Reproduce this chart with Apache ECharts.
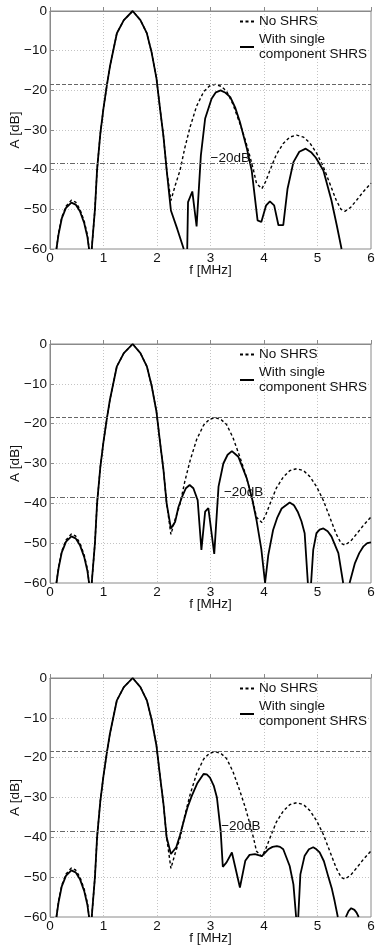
<!DOCTYPE html>
<html>
<head>
<meta charset="utf-8">
<script src="https://cdn.jsdelivr.net/npm/echarts@6/dist/echarts.min.js"></script>
<style>
  html, body { margin: 0; padding: 0; background: #fff; }
  #chart { width: 375px; height: 946px; }
</style>
</head>
<body>
<div id="chart"></div>
<script>
// Axis ticks: frequency [MHz] and amplitude [dB]
const freqTicks = [0, 1, 2, 3, 4, 5, 6];
const ampTicks = [-60, -50, -40, -30, -20, -10, 0];

// Spectrum without SHRS (identical in every panel); null = below the -60 dB floor
const noShrs = [
  [0.12, -60], [0.16, -56], [0.22, -52], [0.30, -49.2], [0.40, -47.7], [0.48, -48.2],
  [0.56, -50], [0.64, -53], [0.70, -56.5], [0.73, -60], [0.755, null],
  [0.78, -60], [0.84, -50], [0.88, -40], [0.94, -31], [1.00, -24.5], [1.06, -19],
  [1.12, -14], [1.25, -5.6], [1.38, -2.3], [1.545, 0], [1.69, -2.3], [1.81, -5.6],
  [1.90, -10.5], [1.99, -17], [2.06, -25], [2.12, -31.5], [2.18, -40], [2.26, -47.8],
  [2.34, -44], [2.43, -40.2], [2.52, -34.5], [2.62, -29.2], [2.74, -24], [2.87, -20.4],
  [2.98, -18.9], [3.09, -18.5], [3.20, -19], [3.30, -20.2], [3.42, -23.5], [3.55, -28.4],
  [3.65, -32.5], [3.74, -36.8], [3.81, -40.5], [3.86, -43.5], [3.96, -44.8], [4.03, -43],
  [4.11, -40.2], [4.23, -36.2], [4.36, -33.4], [4.48, -31.8], [4.61, -31.3], [4.74, -31.8],
  [4.86, -33.3], [4.99, -36], [5.11, -39.3], [5.23, -43.5], [5.35, -47.7], [5.44, -50],
  [5.51, -50.5], [5.62, -49.5], [5.73, -47.7], [5.86, -45.5], [6.00, -43.4]
];

// Low sidelobe and main lobe, shared by the three SHRS spectra
const shrsMainLobe = [
  [0.12, -60], [0.16, -56.3], [0.22, -52.3], [0.30, -49.6], [0.40, -48.3], [0.48, -48.8],
  [0.56, -50.5], [0.64, -53.5], [0.70, -57], [0.73, -60], [0.755, null],
  [0.78, -60], [0.84, -50], [0.88, -40], [0.94, -31], [1.00, -24.5], [1.06, -19],
  [1.12, -14], [1.25, -5.6], [1.38, -2.3], [1.545, 0], [1.69, -2.3], [1.81, -5.6],
  [1.90, -10.5], [1.99, -17], [2.06, -25], [2.12, -31.5], [2.18, -40]
];

// Remaining spectrum with single component SHRS, one array per panel
const shrsTailA = [
  [2.26, -50.3], [2.38, -55], [2.50, -60], [2.54, null], [2.565, -60], [2.58, -48.2],
  [2.66, -45.5], [2.74, -54.3], [2.82, -36.4], [2.90, -27.1], [3.02, -22.1], [3.10, -20.5],
  [3.19, -20], [3.28, -20.6], [3.37, -21.7], [3.46, -24.3], [3.55, -28], [3.68, -34.7],
  [3.77, -40.2], [3.88, -52.8], [3.95, -53.2], [4.04, -49], [4.11, -48], [4.19, -49],
  [4.27, -54], [4.36, -54], [4.44, -44.8], [4.55, -38.1], [4.66, -35.5], [4.78, -34.7],
  [4.88, -35.6], [4.97, -37], [5.11, -40.2], [5.26, -47.7], [5.36, -54], [5.45, -60]
];
const shrsTailB = [
  [2.26, -46.3], [2.34, -44.6], [2.40, -41], [2.47, -38.3], [2.54, -36.2], [2.61, -35.4],
  [2.68, -36.2], [2.76, -39.2], [2.83, -51.7], [2.90, -42.1], [2.96, -41.2], [2.99, -41.5],
  [3.07, -52.7], [3.15, -35.8], [3.24, -30], [3.32, -27.8], [3.40, -26.9], [3.52, -28.3],
  [3.68, -33.8], [3.78, -39], [3.86, -44.2], [3.95, -51.5], [4.02, -60], [4.08, -53],
  [4.17, -46.7], [4.25, -43.5], [4.33, -41.3], [4.48, -39.8], [4.56, -40.5], [4.63, -42.1],
  [4.70, -44.5], [4.76, -47.5], [4.82, -60], [4.85, null], [4.88, -60], [4.92, -51.7],
  [4.98, -47.5], [5.04, -46.6], [5.11, -46.3], [5.19, -47], [5.26, -48.3], [5.39, -52.5],
  [5.48, -60], [5.54, null], [5.60, -60], [5.70, -55], [5.78, -52.5], [5.86, -50.8],
  [5.93, -50], [6.00, -49.8]
];
const shrsTailC = [
  [2.26, -44.2], [2.36, -42.5], [2.43, -39.5], [2.50, -35.9], [2.57, -32.5], [2.65, -29.6],
  [2.75, -26.5], [2.87, -24.1], [2.93, -24.2], [2.99, -25], [3.06, -27], [3.12, -30],
  [3.19, -38.4], [3.23, -47.4], [3.30, -46.3], [3.40, -43.8], [3.55, -52.6], [3.65, -45.9],
  [3.73, -44.4], [3.83, -44.2], [3.96, -44.7], [4.08, -43], [4.16, -42.4], [4.24, -42.2],
  [4.30, -42.4], [4.36, -43], [4.48, -47.2], [4.55, -51.8], [4.60, -60], [4.62, null],
  [4.64, -60], [4.68, -49.3], [4.76, -44.6], [4.84, -43], [4.92, -42.5], [4.98, -43],
  [5.04, -43.8], [5.12, -46], [5.19, -49.3], [5.27, -53], [5.32, -56], [5.38, -60],
  [5.45, null], [5.53, -60], [5.58, -58.5], [5.63, -57.8], [5.69, -58.2], [5.73, -58.9],
  [5.77, -60]
];

// Highest sidelobe of the spectrum without SHRS, and the level 20 dB below it
const sidelobeRef = -18.5;
const dropDb = 20;
const dropLabel = '\u221220dB';
// Frequency where each panel's "-20dB" note starts
const dropLabelFreq = [3.0, 3.25, 3.2];

const seriesNames = ['No SHRS', 'With single\ncomponent SHRS'];
const shrsPanels = [shrsTailA, shrsTailB, shrsTailC];

const FONT = '"Liberation Sans", Arial, Helvetica, sans-serif';
const TEXT = '#111';
const BOX = '#8a8a8a';
const minus = v => String(v).replace('-', '\u2212');

const panelTops = [11, 344, 678];
const panelHeights = [238, 239, 239];

const grids = [], xAxes = [], yAxes = [], series = [], legends = [];

panelTops.forEach((top, i) => {
  grids.push({
    left: 50, top: top, width: 321, height: panelHeights[i],
    outerBoundsMode: 'none', containLabel: false,
    show: true, borderColor: BOX, borderWidth: 1, backgroundColor: 'transparent'
  });
  xAxes.push({
    type: 'value', gridIndex: i, min: freqTicks[0], max: freqTicks[freqTicks.length - 1],
    interval: 1,
    name: 'f [MHz]', nameLocation: 'middle', nameGap: 14, nameMoveOverlap: false,
    nameTextStyle: { fontFamily: FONT, fontSize: 13.5, color: TEXT },
    axisLine: { show: true, lineStyle: { color: BOX, width: 1 } },
    axisTick: { show: true, inside: true, length: 4, lineStyle: { color: BOX } },
    axisLabel: { fontFamily: FONT, fontSize: 13.5, color: TEXT, margin: 2 },
    splitLine: { show: true, lineStyle: { color: '#c4c4c4', type: [1, 2], width: 1 } }
  });
  yAxes.push({
    type: 'value', gridIndex: i, min: ampTicks[0], max: ampTicks[ampTicks.length - 1],
    interval: 10,
    name: 'A [dB]', nameLocation: 'middle', nameGap: 28, nameMoveOverlap: false,
    nameTextStyle: { fontFamily: FONT, fontSize: 13.5, color: TEXT },
    axisLine: { show: true, lineStyle: { color: BOX, width: 1 } },
    axisTick: { show: true, inside: true, length: 4, lineStyle: { color: BOX } },
    axisLabel: { fontFamily: FONT, fontSize: 13.5, color: TEXT, margin: 3, formatter: minus },
    splitLine: { show: true, lineStyle: { color: '#c4c4c4', type: [1, 2], width: 1 } }
  });

  series.push({
    name: seriesNames[0], type: 'line', xAxisIndex: i, yAxisIndex: i,
    data: noShrs, showSymbol: false, symbol: 'none', connectNulls: false, clip: true,
    lineStyle: { color: '#000', width: 1.4, type: [3, 2.5] },
    itemStyle: { color: '#000' },
    z: 3,
    markLine: {
      silent: true, symbol: ['none', 'none'], label: { show: false },
      data: [
        { yAxis: sidelobeRef, lineStyle: { color: '#666', width: 1, type: [4, 2] } },
        { yAxis: sidelobeRef - dropDb, lineStyle: { color: '#666', width: 1, type: [5, 2, 1, 2] } }
      ]
    }
  });
  series.push({
    name: seriesNames[1], type: 'line', xAxisIndex: i, yAxisIndex: i,
    data: shrsMainLobe.concat(shrsPanels[i]), showSymbol: false, symbol: 'none',
    connectNulls: false, clip: true,
    lineStyle: { color: '#000', width: 1.8, type: 'solid' },
    itemStyle: { color: '#000' },
    z: 4,
    markPoint: {
      silent: true, symbol: 'circle', symbolSize: 0,
      data: [{ coord: [dropLabelFreq[i], sidelobeRef - dropDb] }],
      label: {
        show: true, formatter: dropLabel, position: [0, 0], align: 'left',
        verticalAlign: 'bottom', offset: [0, 2],
        fontFamily: FONT, fontSize: 13.5, color: TEXT
      }
    }
  });

  legends.push({
    data: seriesNames, orient: 'vertical', left: 239, top: top + 3,
    padding: 0, itemGap: 3, itemWidth: 14, itemHeight: 10,
    selectedMode: false,
    itemStyle: { color: 'rgba(0,0,0,0)', borderWidth: 0, borderColor: 'rgba(0,0,0,0)' },
    textStyle: { fontFamily: FONT, fontSize: 13.5, color: TEXT, lineHeight: 15 }
  });
});

const chart = echarts.init(document.getElementById('chart'), null, { renderer: 'canvas' });
chart.setOption({
  animation: false,
  backgroundColor: '#fff',
  grid: grids,
  xAxis: xAxes,
  yAxis: yAxes,
  legend: legends,
  series: series
});
</script>
</body>
</html>
